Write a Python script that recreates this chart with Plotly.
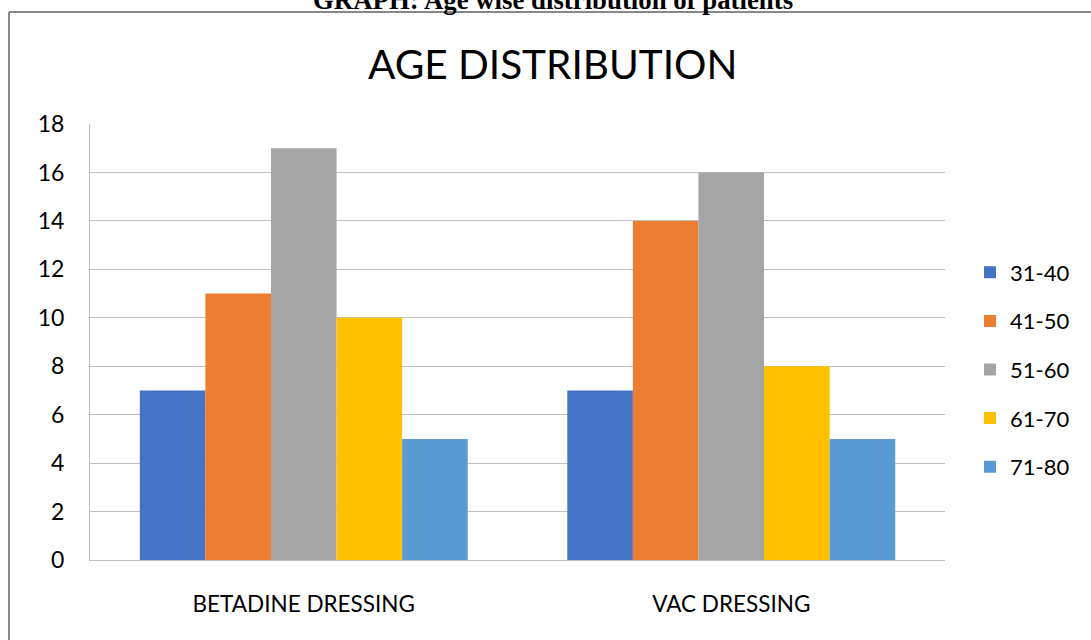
import plotly.graph_objects as go

categories = ["BETADINE DRESSING", "VAC DRESSING"]
age_groups = ["31-40", "41-50", "51-60", "61-70", "71-80"]
values = {
    "31-40": [7, 7],
    "41-50": [11, 14],
    "51-60": [17, 16],
    "61-70": [10, 8],
    "71-80": [5, 5],
}
colors = ["#4472C4", "#ED7D31", "#A5A5A5", "#FFC000", "#5B9BD5"]
y_ticks = [0, 2, 4, 6, 8, 10, 12, 14, 16, 18]

FONT = "Lato"

fig = go.Figure()
for i, g in enumerate(age_groups):
    fig.add_trace(go.Bar(
        name=g, x=categories, y=values[g],
        marker=dict(color=colors[i], line=dict(width=0)),
        legendgroup=g,
    ))

W, H = 1091, 640
L, R, T, B = 90, 146, 124, 80
pw, ph = W - L - R, H - T - B

def px_x(p):
    return (p - L) / pw

def px_y(p):
    return (H - B - p) / ph

fig.update_layout(
    width=W, height=H,
    margin=dict(l=L, r=R, t=T, b=B, autoexpand=False),
    paper_bgcolor="white", plot_bgcolor="white",
    barmode="group", bargap=0.233, bargroupgap=0,
    font=dict(family=FONT, color="#000000"),
    showlegend=True,
    legend=dict(
        x=px_x(970), y=px_y(369.5), xanchor="left", yanchor="middle",
        font=dict(size=22, family=FONT, color="#000000"),
        tracegroupgap=17, bgcolor="rgba(0,0,0,0)",
    ),
    xaxis=dict(
        showgrid=False, showline=True, linecolor="#BFBFBF", linewidth=1,
        ticks="", tickfont=dict(size=22.5, family=FONT, color="#000000"),
        ticklabelstandoff=24,
    ),
    yaxis=dict(
        range=[0, 18], tickvals=y_ticks, showgrid=True, gridcolor="#BFBFBF",
        gridwidth=1, showline=True, linecolor="#BFBFBF", linewidth=1,
        zeroline=False, ticks="", tickfont=dict(size=23, family=FONT, color="#000000"),
        ticklabelstandoff=20,
    ),
    annotations=[
        dict(text="AGE DISTRIBUTION", xref="paper", yref="paper",
             x=px_x(552), y=px_y(63), xanchor="center", yanchor="middle",
             showarrow=False, font=dict(size=40.5, family=FONT, color="#000000")),
        dict(text="<b>GRAPH: Age wise distribution of patients</b>", xref="paper", yref="paper",
             x=px_x(553), y=px_y(17), xanchor="center", yanchor="bottom",
             showarrow=False, font=dict(size=26.8, family="Liberation Serif", color="#000000")),
    ],
    shapes=[
        dict(type="line", xref="paper", yref="paper", x0=px_x(9), x1=px_x(1100),
             y0=px_y(12), y1=px_y(12), line=dict(color="#888888", width=2)),
        dict(type="line", xref="paper", yref="paper", x0=px_x(9), x1=px_x(9),
             y0=px_y(12), y1=px_y(660), line=dict(color="#888888", width=2)),
    ],
)

fig.write_html(
    "out.html",
    config={"displayModeBar": False},
    post_script="document.body.style.margin='0';document.body.style.overflow='hidden';",
)
